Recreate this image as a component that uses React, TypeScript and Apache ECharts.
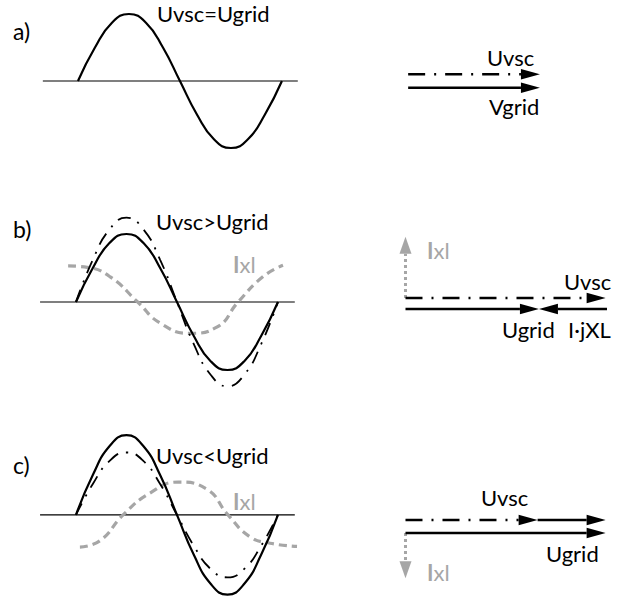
import React, { useEffect, useRef } from "react";
import * as echarts from "echarts";

// ---------- data (phase in degrees, amplitude in p.u.) ----------
const phaseDeg = [0, 30, 60, 90, 120, 150, 180, 210, 240, 270, 300, 330, 360];
const uGridA = [0, 0.5, 0.87, 1, 0.87, 0.5, 0, -0.5, -0.87, -1, -0.87, -0.5, 0];
const uGridB = [0, 0.5, 0.87, 1, 0.87, 0.5, 0, -0.5, -0.87, -1, -0.87, -0.5, 0];
const uVscB = [0, 0.62, 1.07, 1.24, 1.07, 0.62, 0, -0.62, -1.07, -1.24, -1.07, -0.62, 0];
const uGridC = [0, 0.62, 1.07, 1.24, 1.07, 0.62, 0, -0.62, -1.07, -1.24, -1.07, -0.62, 0];
const uVscC = [0, 0.48, 0.84, 0.97, 0.84, 0.48, 0, -0.48, -0.84, -0.97, -0.84, -0.48, 0];

const ixPhaseB = [-14, 20, 61, 110, 150, 203, 251, 289, 333, 369];
const ixB = [0.53, 0.51, 0.37, 0, -0.31, -0.46, -0.37, 0, 0.37, 0.54];
const ixPhaseC = [7, 43, 84, 132, 182, 233, 271, 310, 346, 394];
const ixC = [-0.5, -0.4, 0, 0.34, 0.51, 0.4, 0, -0.34, -0.44, -0.49];

const baseA = [-62, 388];
const baseBC = [-64, 390];

// phasors: [x0, y0, x1, y1, kind]  kind: 0 solid, 1 dash-dot, 2 grey dotted
const SOLID = 0, DASHDOT = 1, GREY = 2;
const phasorsA = [
  [0, 0.05, 1.0, 0.05, DASHDOT],
  [0, -0.05, 1.0, -0.05, SOLID],
];
const phasorsB = [
  [0, 0.04, 0, 0.49, GREY],
  [0, 0.04, 1.5, 0.04, DASHDOT],
  [0, -0.04, 1.0, -0.04, SOLID],
  [1.51, -0.04, 1.0, -0.04, SOLID],
];
const phasorsC = [
  [0, -0.048, 0, -0.38, GREY],
  [0, 0.048, 0.99, 0.048, DASHDOT],
  [0.99, 0.048, 1.5, 0.048, SOLID],
  [0, -0.048, 1.5, -0.048, SOLID],
];

const FONT = "Lato, 'Noto Sans', sans-serif";
const GREY_C = "#a6a6a6";
const LABEL_SIZE = 22;

function pairs(xs: number[], ys: number[]) {
  return xs.map((x, i) => [x, ys[i]]);
}

function renderPhasor(params: any, api: any) {
  const p0 = api.coord([api.value(0), api.value(1)]);
  const p1 = api.coord([api.value(2), api.value(3)]);
  const kind = api.value(4);
  const dx = p1[0] - p0[0];
  const dy = p1[1] - p0[1];
  const len = Math.hypot(dx, dy) || 1;
  const ux = dx / len, uy = dy / len;
  const headLen = kind === GREY ? 17 : 19;
  const headHalf = kind === GREY ? 6 : 5.2;
  const bx = p1[0] - ux * headLen, by = p1[1] - uy * headLen;
  const nx = -uy, ny = ux;
  const color = kind === GREY ? GREY_C : "#000";
  const lineDash = kind === DASHDOT ? [17, 9, 2, 9] : kind === GREY ? [3, 3] : null;
  const lineWidth = kind === GREY ? 3 : 2.4;
  return {
    type: "group",
    children: [
      {
        type: "line",
        shape: { x1: p0[0], y1: p0[1], x2: bx, y2: by },
        style: { stroke: color, lineWidth, lineDash },
      },
      {
        type: "polygon",
        shape: {
          points: [
            [p1[0], p1[1]],
            [bx + nx * headHalf, by + ny * headHalf],
            [bx - nx * headHalf, by - ny * headHalf],
          ],
        },
        style: { fill: color },
      },
    ],
  };
}

function text(t: string, x: number, y: number, size = LABEL_SIZE) {
  return {
    type: "text",
    x,
    y,
    style: { text: t, fill: "#000", fontSize: size, fontFamily: FONT, verticalAlign: "middle" },
  };
}
function ixText(x: number, y: number) {
  return {
    type: "text",
    x,
    y,
    style: {
      text: "{b|I}{n|xl}",
      verticalAlign: "middle",
      rich: {
        b: { fill: GREY_C, fontSize: LABEL_SIZE, fontFamily: FONT, fontWeight: "bold" },
        n: { fill: GREY_C, fontSize: LABEL_SIZE, fontFamily: FONT },
      },
    },
  };
}

export default function App() {
  const ref = useRef<HTMLDivElement>(null);
  useEffect(() => {
    if (!ref.current) return;
    const chart = echarts.init(ref.current, null, { renderer: "svg" });
    const waveX = (i: number) => ({ type: "value", gridIndex: i, min: -70, max: 400, show: false });
    const waveY = (i: number, m: number) => ({ type: "value", gridIndex: i, min: -m, max: m, show: false });
    const phX = (i: number) => ({ type: "value", gridIndex: i, min: -0.2, max: 1.6, show: false });
    const phY = (i: number) => ({ type: "value", gridIndex: i, min: -0.5, max: 0.5, show: false });
    const line = (xi: number, data: number[][], color: string, width: number, type: any, smooth = true) => ({
      type: "line",
      xAxisIndex: xi,
      yAxisIndex: xi,
      data,
      smooth,
      showSymbol: false,
      symbol: "none",
      silent: true,
      lineStyle: { color, width, type, cap: "butt" },
    });
    const dashDot = [13, 8, 2, 8];
    const greyDash = [8, 5];
    const option: any = {
      animation: false,
      backgroundColor: "#fff",
      grid: [
        { left: 38.3, width: 266.3, top: 0.6, height: 160.8 },
        { left: 36.7, width: 263.7, top: 206.8, height: 190.4 },
        { left: 36.7, width: 263.7, top: 424.8, height: 190.4 },
        { left: 381.8, width: 244.8, top: 13, height: 136 },
        { left: 378.8, width: 244.8, top: 235.5, height: 136 },
        { left: 378.8, width: 244.8, top: 458.5, height: 136 },
      ],
      xAxis: [waveX(0), waveX(1), waveX(2), phX(3), phX(4), phX(5)],
      yAxis: [waveY(0, 1.2), waveY(1, 1.4), waveY(2, 1.4), phY(3), phY(4), phY(5)],
      series: [
        line(0, pairs(baseA, [0, 0]), "#000", 1.2, "solid", false),
        line(0, pairs(phaseDeg, uGridA), "#000", 2.2, "solid"),

        line(1, pairs(baseBC, [0, 0]), "#000", 1.2, "solid", false),
        line(1, pairs(ixPhaseB, ixB), GREY_C, 3.2, greyDash),
        line(1, pairs(phaseDeg, uVscB), "#000", 1.8, dashDot),
        line(1, pairs(phaseDeg, uGridB), "#000", 2.2, "solid"),

        line(2, pairs(baseBC, [0, 0]), "#000", 1.2, "solid", false),
        line(2, pairs(ixPhaseC, ixC), GREY_C, 3.2, greyDash),
        line(2, pairs(phaseDeg, uVscC), "#000", 1.8, dashDot),
        line(2, pairs(phaseDeg, uGridC), "#000", 2.2, "solid"),

        ...[phasorsA, phasorsB, phasorsC].map((d, k) => ({
          type: "custom",
          coordinateSystem: "cartesian2d",
          xAxisIndex: 3 + k,
          yAxisIndex: 3 + k,
          encode: { x: [0, 2], y: [1, 3] },
          data: d,
          renderItem: renderPhasor,
          silent: true,
        })),
      ],
      graphic: [
        text("a)", 13, 31, 23),
        text("Uvsc=Ugrid", 157, 13),
        text("Uvsc", 487, 57),
        text("Vgrid", 489, 106),

        text("b)", 13, 229, 23),
        text("Uvsc>Ugrid", 156, 221),
        ixText(233, 264),
        ixText(427, 250),
        text("Uvsc", 564, 281),
        text("Ugrid", 502, 329),
        text("I·jXL", 568, 329),

        text("c)", 13, 465, 23),
        text("Uvsc<Ugrid", 156, 455),
        ixText(233, 501),
        text("Uvsc", 481, 497),
        text("Ugrid", 546, 553),
        ixText(427, 572),
      ],
    };
    chart.setOption(option);
    return () => chart.dispose();
  }, []);
  return (
    <div
      ref={ref}
      style={{ position: "fixed", left: 0, top: 0, width: 619, height: 605, background: "#fff" }}
    />
  );
}
